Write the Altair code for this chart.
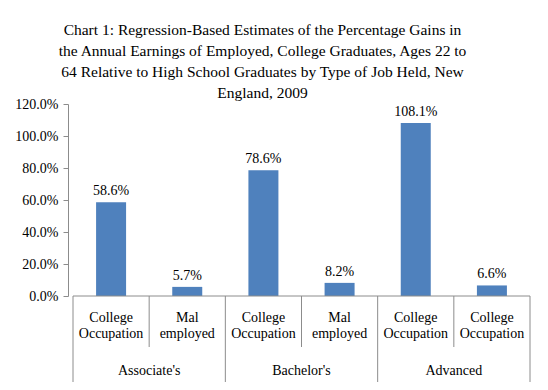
import altair as alt
import pandas as pd

sub_labels = ["College\nOccupation", "Mal\nemployed", "College\nOccupation",
              "Mal\nemployed", "College\nOccupation", "College\nOccupation"]
group_labels = ["Associate's", "Bachelor's", "Advanced"]
values = [58.6, 5.7, 78.6, 8.2, 108.1, 6.6]
y_ticks = [0, 20, 40, 60, 80, 100, 120]

title_lines = [
    "Chart 1: Regression-Based Estimates of the Percentage Gains in",
    "the Annual Earnings of Employed, College Graduates, Ages 22 to",
    "64 Relative to High School Graduates by Type of Job Held, New",
    "England, 2009",
]

FONT = "Liberation Serif"
GRAY = "#8c8c8c"
W, H = 467, 192

bars_df = pd.DataFrame({
    "pos": [i + 0.5 for i in range(len(values))],
    "value": values,
    "label": [f"{v:.1f}%" for v in values],
    "sub": sub_labels,
})
groups_df = pd.DataFrame({
    "pos": [2 * i + 1 for i in range(len(group_labels))],
    "group": group_labels,
})
minor_df = pd.DataFrame({"pos": [1, 3, 5]})
major_df = pd.DataFrame({"pos": [0, 2, 4, 6]})
base_df = pd.DataFrame({"a": [0], "b": [6], "z": [0]})

xscale = alt.Scale(domain=[0, 6], nice=False, zero=False)
yscale = alt.Scale(domain=[0, 120], nice=False)

yaxis = alt.Axis(values=y_ticks, labelExpr="format(datum.value, '.1f') + '%'",
                 grid=False, domainColor=GRAY, tickColor=GRAY, tickSize=5,
                 labelFont=FONT, labelFontSize=14, labelColor="black",
                 labelPadding=5, labelOverlap=False, labelBound=False,
                 labelFlush=False)

bars = alt.Chart(bars_df).mark_bar(color="#4F81BD", size=30).encode(
    x=alt.X("pos:Q", scale=xscale, axis=None),
    y=alt.Y("value:Q", scale=yscale, title=None, axis=yaxis),
)

bar_text = alt.Chart(bars_df).mark_text(font=FONT, fontSize=14, dy=-11, color="black").encode(
    x=alt.X("pos:Q", scale=xscale, axis=None),
    y=alt.Y("value:Q", scale=yscale, title=None, axis=yaxis),
    text="label:N",
)

baseline = alt.Chart(base_df).mark_rule(color=GRAY).encode(
    x=alt.X("a:Q", scale=xscale, axis=None), x2="b:Q",
    y=alt.Y("z:Q", scale=yscale, title=None, axis=yaxis),
)

minor = alt.Chart(minor_df).mark_rule(color=GRAY).encode(
    x=alt.X("pos:Q", scale=xscale, axis=None), y=alt.value(H), y2=alt.value(H + 51),
)
major = alt.Chart(major_df).mark_rule(color=GRAY).encode(
    x=alt.X("pos:Q", scale=xscale, axis=None), y=alt.value(H), y2=alt.value(H + 90),
)

sub_text = alt.Chart(bars_df).mark_text(font=FONT, fontSize=14, lineBreak="\n",
                                        lineHeight=16, baseline="alphabetic",
                                        color="black").encode(
    x=alt.X("pos:Q", scale=xscale, axis=None), y=alt.value(H + 26), text="sub:N",
)
group_text = alt.Chart(groups_df).mark_text(font=FONT, fontSize=14, baseline="alphabetic",
                                            color="black").encode(
    x=alt.X("pos:Q", scale=xscale, axis=None), y=alt.value(H + 79), text="group:N",
)

chart = alt.layer(bars, bar_text, baseline, minor, major, sub_text, group_text).properties(
    width=W, height=H,
    title=alt.TitleParams(text=title_lines, font=FONT, fontSize=15.5, fontWeight="normal",
                          lineHeight=21, anchor="middle", dx=-39, offset=-4, color="black"),
    autosize=alt.AutoSizeParams(type="none"),
    padding={"left": 60, "top": 96, "right": 5, "bottom": 86},
).configure_view(stroke=None)

chart.save("out.html", embed_options={"renderer": "svg", "actions": False})
